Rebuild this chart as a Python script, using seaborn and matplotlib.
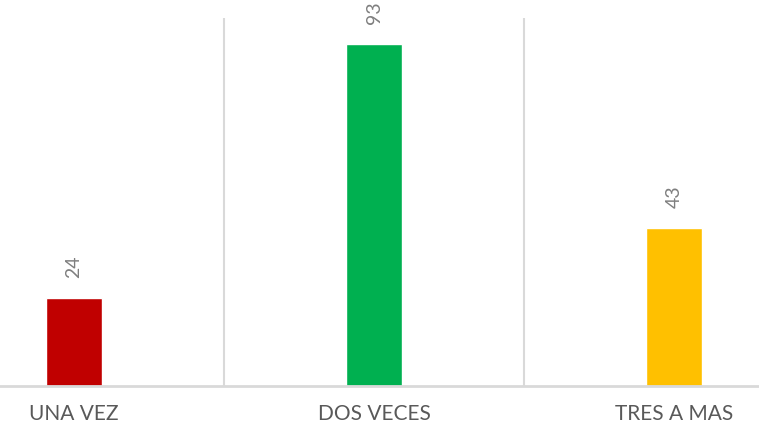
import matplotlib.pyplot as plt
import pandas as pd
import seaborn as sns

categories = ["UNA VEZ", "DOS VECES", "TRES A MAS"]
counts = [24, 93, 43]
bar_colors = ["#c00000", "#00b050", "#ffc000"]

df = pd.DataFrame({"Veces": categories, "Cantidad": counts})

sns.set_style("white")
plt.rcParams['font.family'] = ['Lato', 'DejaVu Sans']

fig = plt.figure(figsize=(7.59, 4.26), dpi=100)
ax = fig.add_axes([0, 0.094, 1, 0.864])

sns.barplot(data=df, x="Veces", y="Cantidad", hue="Veces", palette=bar_colors,
            dodge=False, width=0.187, legend=False, ax=ax, saturation=1)

ax.set_xlim(-0.247, 2.283)
ax.set_ylim(0, 100)

# light separators between categories
for x in [0.5, 1.5]:
    ax.axvline(x, color="#d9d9d9", lw=1.5, zorder=0)

for container in ax.containers:
    ax.bar_label(container, rotation=90, padding=14, color="#7f7f7f", fontsize=14)

for side in ["top", "right", "left"]:
    ax.spines[side].set_visible(False)
ax.spines["bottom"].set_color("#d9d9d9")
ax.spines["bottom"].set_linewidth(2)

ax.set_yticks([])
ax.set_xlabel("")
ax.set_ylabel("")
ax.tick_params(axis="x", length=0, pad=13, labelsize=15, labelcolor="#595959")

plt.savefig("out.png", dpi=100)
plt.close()
